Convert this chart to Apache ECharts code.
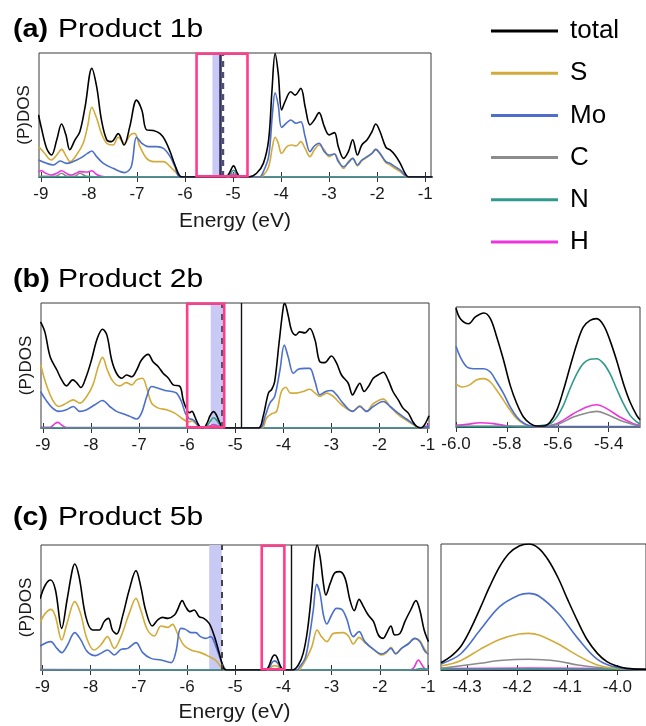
<!DOCTYPE html>
<html>
<head>
<meta charset="utf-8">
<script src="https://cdn.jsdelivr.net/npm/echarts@6/dist/echarts.min.js"></script>
<style>
html,body{margin:0;padding:0;background:#fff;}
#chart{width:646px;height:726px;}
</style>
</head>
<body>
<div id="chart"></div>
<script>
// ---------------- data (Energy eV, PDOS arbitrary units) ----------------
const legendNames = ['total','S','Mo','C','N','H'];
const mainTicks = [-9,-8,-7,-6,-5,-4,-3,-2,-1];
const bInsetTicks = [-6.0,-5.8,-5.6,-5.4];
const cInsetTicks = [-4.3,-4.2,-4.1,-4.0];
const titles = [['(a)','Product 1b'],['(b)','Product 2b'],['(c)','Product 5b']];

// Panel (a) Product 1b
const aTotal = [[-9.05,50],[-8.99,39.5],[-8.88,23],[-8.78,17.7],[-8.67,30],[-8.57,42.7],[-8.48,34],[-8.4,22],[-8.29,30],[-8.19,36.5],[-8.08,56.7],[-7.94,87.6],[-7.84,72.8],[-7.74,46],[-7.63,30],[-7.53,28.5],[-7.39,35],[-7.27,25.8],[-7.15,40.6],[-7.01,62],[-6.9,54],[-6.8,38],[-6.66,37.5],[-6.52,35],[-6.42,30],[-6.31,20.4],[-6.21,9.7],[-6.1,0.5],[-6.03,0],[-5.15,0],[-5.08,3],[-4.99,9],[-4.91,3],[-4.85,0],[-4.68,0],[-4.51,3],[-4.37,11],[-4.26,30],[-4.19,70],[-4.125,99.5],[-4.06,83.6],[-3.99,54],[-3.92,60.7],[-3.8,68.8],[-3.71,66],[-3.59,71.5],[-3.5,56.7],[-3.4,42],[-3.31,46],[-3.21,51.9],[-3.1,40.6],[-3.0,34],[-2.89,35.8],[-2.81,24.5],[-2.7,15],[-2.6,20.4],[-2.51,30],[-2.41,17.7],[-2.32,25.8],[-2.21,30],[-2.11,36.5],[-2.03,42.7],[-1.94,36.5],[-1.82,24],[-1.73,21.8],[-1.63,17.7],[-1.52,11],[-1.42,3],[-1.35,0],[-0.85,0]];
const aS = [[-9.05,24.5],[-8.95,20.4],[-8.78,13.7],[-8.67,17.7],[-8.57,22.3],[-8.47,16.4],[-8.39,12.4],[-8.26,17.7],[-8.12,27.2],[-8.03,40.6],[-7.94,56.2],[-7.84,47.3],[-7.74,35.2],[-7.63,27.2],[-7.5,25.8],[-7.39,32],[-7.26,27.2],[-7.14,33.9],[-7.05,35.2],[-6.94,24.5],[-6.8,15],[-6.66,12.4],[-6.45,12.4],[-6.31,8.3],[-6.17,3],[-6.07,0],[-5.12,0],[-4.99,0.8],[-4.87,0],[-4.45,0],[-4.37,1.3],[-4.26,8.3],[-4.18,24.5],[-4.125,32],[-4.06,27.2],[-3.99,19],[-3.88,24.5],[-3.78,25.8],[-3.69,25],[-3.59,28.5],[-3.5,23],[-3.4,16.4],[-3.31,21.8],[-3.21,25.8],[-3.1,21.8],[-3.0,16.4],[-2.89,18.5],[-2.81,13.7],[-2.7,7],[-2.6,12.4],[-2.51,15],[-2.41,9],[-2.32,13],[-2.21,16],[-2.11,19],[-2.03,22.3],[-1.94,18.5],[-1.82,11.6],[-1.73,9.7],[-1.63,7],[-1.52,4.3],[-1.42,1],[-1.35,0],[-0.85,0]];
const aMo = [[-9.05,13.7],[-8.88,11],[-8.74,9.7],[-8.6,12.9],[-8.47,11],[-8.33,12.4],[-8.19,15],[-8.03,19],[-7.94,21],[-7.84,16.4],[-7.7,11],[-7.5,7],[-7.26,3.5],[-7.12,8.3],[-7.01,32],[-6.9,27.2],[-6.77,24.5],[-6.59,24.5],[-6.45,23],[-6.31,16.4],[-6.21,8.3],[-6.1,0],[-5.12,0],[-4.99,1.2],[-4.87,0],[-4.45,0],[-4.37,4.3],[-4.26,16.4],[-4.18,51.3],[-4.125,68],[-4.06,58],[-3.99,40],[-3.88,43.8],[-3.8,46],[-3.69,43.3],[-3.59,44.6],[-3.5,32.5],[-3.4,20.4],[-3.31,25],[-3.21,27.2],[-3.1,20.4],[-3.0,17.7],[-2.89,18.5],[-2.81,12.4],[-2.7,8.3],[-2.6,11.6],[-2.51,15],[-2.41,9.7],[-2.32,13.7],[-2.21,16.4],[-2.11,19],[-2.03,22.3],[-1.94,19],[-1.82,12.4],[-1.73,11],[-1.63,8.3],[-1.52,5.6],[-1.42,1.3],[-1.35,0],[-0.85,0]];
const aC = [[-9.05,0.5],[-8.7,0.5],[-8.57,3],[-8.45,0.5],[-8.3,0.5],[-8.19,3],[-8.05,0.5],[-7.6,0],[-5.12,0],[-4.99,1.5],[-4.87,0],[-0.85,0]];
const aN = [[-9.05,0],[-5.12,0],[-4.99,5.5],[-4.87,0],[-0.85,0]];
const aH = [[-9.05,4],[-8.99,5],[-8.9,3],[-8.78,1.6],[-8.67,3],[-8.57,5],[-8.45,2.5],[-8.36,1.6],[-8.27,3],[-8.19,4.3],[-8.05,4],[-7.94,5],[-7.84,2],[-7.74,0.5],[-7.6,0],[-5.12,0],[-4.99,2.5],[-4.87,0],[-0.85,0]];

// Panel (b) Product 2b
const bTotal = [[-9.05,84.9],[-8.96,76.9],[-8.85,57],[-8.71,46.4],[-8.61,38.5],[-8.51,33.7],[-8.38,38.5],[-8.3,36.3],[-8.21,32.4],[-8.1,41],[-7.99,54.4],[-7.87,71.6],[-7.76,79],[-7.67,74.3],[-7.57,54.4],[-7.47,43.8],[-7.36,39.8],[-7.26,42.4],[-7.15,41],[-7.05,46.4],[-6.95,54.4],[-6.81,58.9],[-6.71,53],[-6.6,49],[-6.5,43.8],[-6.39,39.8],[-6.29,34.5],[-6.15,33.2],[-6.08,22],[-6.0,14.2],[-5.95,12.3],[-5.9,13.4],[-5.84,9],[-5.77,3],[-5.7,0.2],[-5.65,0.3],[-5.58,4.4],[-5.52,10],[-5.45,13.1],[-5.4,11],[-5.33,5],[-5.28,1.3],[-5.2,0],[-4.52,0],[-4.42,9.3],[-4.31,27.9],[-4.24,31],[-4.18,37.1],[-4.09,67.6],[-4.0,96.8],[-3.97,99.5],[-3.9,90.2],[-3.83,78.2],[-3.74,74.3],[-3.66,76.9],[-3.55,76.1],[-3.45,79.6],[-3.34,70.3],[-3.24,53],[-3.14,52.3],[-3.0,57.6],[-2.89,51.7],[-2.79,42.4],[-2.65,35.8],[-2.56,26.5],[-2.48,31.8],[-2.41,35.8],[-2.32,29.2],[-2.23,33.2],[-2.13,39.8],[-2.03,42.4],[-1.92,44.6],[-1.82,38.5],[-1.72,29.2],[-1.61,22.5],[-1.51,15.9],[-1.4,11.9],[-1.31,5.3],[-1.23,1.3],[-1.14,0],[-1.06,2.7],[-0.97,9.8]];
const bS = [[-9.05,51.2],[-8.94,35.8],[-8.8,22.5],[-8.67,17.2],[-8.51,19.9],[-8.37,22.5],[-8.23,19.9],[-8.09,25.2],[-7.96,34.5],[-7.85,49],[-7.76,56.5],[-7.66,46.4],[-7.54,37.1],[-7.4,33.7],[-7.27,36.3],[-7.15,34.5],[-7.05,38.5],[-6.93,39.8],[-6.84,31.8],[-6.74,19.9],[-6.6,15.9],[-6.43,14.6],[-6.26,11.9],[-6.12,8],[-6.0,5.2],[-5.95,5.0],[-5.9,5.8],[-5.84,4.2],[-5.77,1.5],[-5.7,0],[-4.45,0],[-4.35,8],[-4.24,11.4],[-4.14,13.3],[-4.04,29.2],[-3.95,32.6],[-3.85,27.9],[-3.73,27.9],[-3.59,29.2],[-3.45,31],[-3.34,27.9],[-3.24,25.2],[-3.1,27.9],[-2.96,25.2],[-2.79,18.6],[-2.56,13.3],[-2.41,17.8],[-2.27,13.3],[-2.13,19.4],[-1.92,23.1],[-1.78,17.2],[-1.61,10.6],[-1.44,6.1],[-1.3,2.7],[-1.18,0],[-0.97,0]];
const bMo = [[-9.05,29.2],[-8.94,22.5],[-8.8,15.9],[-8.67,13.3],[-8.51,14.6],[-8.37,17.2],[-8.23,13.3],[-8.09,14.6],[-7.92,18.6],[-7.76,22],[-7.61,17.2],[-7.47,13.3],[-7.33,11.4],[-7.19,9.3],[-7.05,7.2],[-6.95,11.9],[-6.84,25.2],[-6.74,33.2],[-6.6,31.8],[-6.46,30],[-6.32,29.2],[-6.22,27.9],[-6.12,21.2],[-6.04,12],[-6.0,9.7],[-5.95,7.3],[-5.9,7.0],[-5.84,5.4],[-5.77,1.5],[-5.7,0],[-4.49,0],[-4.38,9.3],[-4.28,19.9],[-4.18,25.2],[-4.07,46.4],[-3.98,66.3],[-3.9,57],[-3.79,43.8],[-3.69,47],[-3.55,47.7],[-3.45,47.7],[-3.34,37.1],[-3.24,26.5],[-3.12,29.2],[-3.0,30],[-2.89,26.5],[-2.76,19.9],[-2.56,13.3],[-2.41,17.2],[-2.27,13.3],[-2.13,17.2],[-1.92,21.2],[-1.78,17.2],[-1.61,11.9],[-1.44,7.2],[-1.3,3.4],[-1.16,0.3],[-0.97,0.5]];
const bC = [[-9.05,0],[-5.62,0],[-5.52,1.2],[-5.45,1.9],[-5.38,1.2],[-5.28,0.2],[-5.2,0],[-0.97,0]];
const bN = [[-9.05,0],[-5.64,0],[-5.57,2.5],[-5.5,6.5],[-5.45,8.2],[-5.39,6.5],[-5.33,3],[-5.28,0.5],[-5.2,0],[-1.2,0],[-1.05,0.5],[-0.97,1]];
const bH = [[-9.05,0.5],[-8.85,0.5],[-8.75,3.5],[-8.69,4.5],[-8.6,2],[-8.5,0.3],[-6.1,0.3],[-5.9,0.6],[-5.7,0],[-5.6,0.4],[-5.5,2.2],[-5.45,2.7],[-5.38,2],[-5.28,0.3],[-5.2,0],[-1.15,0],[-1.05,1.2],[-0.97,2.2]];

// Panel (b) inset (-6.0 .. -5.28 eV)
const biTotal = [[-6.0,99.2],[-5.983,90.3],[-5.95,86.1],[-5.924,91.7],[-5.89,95],[-5.865,90.3],[-5.84,75],[-5.813,55.6],[-5.787,34.7],[-5.761,19.4],[-5.735,8.3],[-5.708,2.8],[-5.682,0.8],[-5.656,0.8],[-5.63,4.2],[-5.604,13.9],[-5.578,30.6],[-5.552,50],[-5.525,69.4],[-5.5,83.3],[-5.473,88.9],[-5.447,90.3],[-5.42,84.7],[-5.395,72.2],[-5.369,55.6],[-5.342,36.1],[-5.316,20.8],[-5.29,9.7],[-5.277,6.1]];
const biS = [[-6.0,36.1],[-5.977,33.3],[-5.95,34.7],[-5.918,39.4],[-5.89,40.3],[-5.865,37.5],[-5.84,30.6],[-5.813,22.2],[-5.787,13.9],[-5.761,6.9],[-5.735,2.8],[-5.708,0.8],[-5.682,0],[-5.277,0]];
const biMo = [[-6.0,67.2],[-5.983,58.3],[-5.957,50],[-5.931,48.6],[-5.89,48.6],[-5.865,45.8],[-5.84,37.5],[-5.813,27.8],[-5.787,16.7],[-5.761,8.3],[-5.735,3.3],[-5.708,0.8],[-5.682,0.3],[-5.277,0.3]];
const biC = [[-6.0,0.5],[-5.7,0.5],[-5.604,2],[-5.539,8.3],[-5.486,11.7],[-5.447,13],[-5.408,10.6],[-5.356,5.6],[-5.303,2],[-5.277,0.8]];
const biN = [[-6.0,0.3],[-5.7,0.3],[-5.682,0.8],[-5.63,2.8],[-5.604,8.3],[-5.578,18],[-5.552,31.9],[-5.525,44.4],[-5.5,52.8],[-5.473,56.4],[-5.447,56.9],[-5.42,52.8],[-5.395,44.4],[-5.369,31.9],[-5.342,19.4],[-5.316,9.7],[-5.29,4.2],[-5.277,2.8]];
const biH = [[-6.0,1.4],[-5.957,2.2],[-5.905,3.6],[-5.853,2.8],[-5.801,1.1],[-5.748,0.3],[-5.67,0.2],[-5.604,2.8],[-5.539,11.1],[-5.486,16.7],[-5.447,18.6],[-5.408,15.3],[-5.356,8.3],[-5.303,2.8],[-5.277,1.4]];

// Panel (c) Product 5b
const cTotal = [[-9.05,57],[-8.94,68],[-8.83,72],[-8.73,64],[-8.6,33.3],[-8.49,56],[-8.38,80],[-8.33,84.8],[-8.24,74.7],[-8.1,42.7],[-7.96,32],[-7.82,32],[-7.72,38.7],[-7.63,41.3],[-7.55,32],[-7.46,28.8],[-7.34,42.7],[-7.2,64],[-7.06,79.5],[-6.96,66.7],[-6.86,48],[-6.72,35.2],[-6.61,40],[-6.51,42.1],[-6.4,41.3],[-6.26,44],[-6.2,48],[-6.1,55.5],[-6.03,50.7],[-5.94,46.7],[-5.85,48],[-5.75,42.7],[-5.65,41.3],[-5.54,37.3],[-5.43,26.7],[-5.33,13.3],[-5.24,1.3],[-5.18,0],[-4.37,0],[-4.33,1.3],[-4.294,3.8],[-4.255,7.9],[-4.216,11.1],[-4.177,12],[-4.138,10.5],[-4.099,6.7],[-4.06,2.9],[-4.021,0.8],[-3.98,0],[-3.81,0],[-3.69,4],[-3.59,13.3],[-3.5,32],[-3.41,64],[-3.35,90.7],[-3.3,100],[-3.24,90.7],[-3.17,69.3],[-3.12,60],[-3.03,69.3],[-2.93,77.9],[-2.83,78.7],[-2.72,73.3],[-2.62,56],[-2.53,47.5],[-2.43,56.5],[-2.34,50.7],[-2.24,44],[-2.13,38.7],[-2.03,28],[-1.93,25.3],[-1.86,29.3],[-1.77,35.2],[-1.69,28],[-1.58,29.3],[-1.48,38.7],[-1.36,48],[-1.25,55.5],[-1.17,48],[-1.08,32],[-0.99,22.7]];
const cS = [[-9.05,37.9],[-8.94,45.3],[-8.82,48.5],[-8.73,42.7],[-8.6,24],[-8.49,37.3],[-8.33,54.7],[-8.21,45.3],[-8.08,25.3],[-7.93,16],[-7.79,20],[-7.65,26.7],[-7.51,17.3],[-7.37,26.7],[-7.2,45.3],[-7.06,57.3],[-6.96,48],[-6.82,32],[-6.68,27.2],[-6.54,35.2],[-6.4,34.1],[-6.3,36.5],[-6.2,29.3],[-6.07,20],[-5.92,16],[-5.72,13.9],[-5.54,10.7],[-5.4,7.5],[-5.3,2.7],[-5.22,0],[-4.36,0],[-4.29,1.5],[-4.216,3.2],[-4.177,3.5],[-4.138,3.2],[-4.06,1.4],[-3.98,0],[-3.68,0],[-3.62,2.7],[-3.52,9.3],[-3.41,18.7],[-3.3,32],[-3.21,26.7],[-3.1,22.7],[-2.96,29.3],[-2.76,29.9],[-2.65,27.2],[-2.55,20.8],[-2.43,26.1],[-2.31,21.9],[-2.13,16.5],[-1.96,12],[-1.86,13.9],[-1.77,18.1],[-1.67,13.3],[-1.55,17.3],[-1.41,21.3],[-1.27,25.3],[-1.17,23.5],[-1.06,16],[-0.99,13.3]];
const cMo = [[-9.05,19.2],[-8.83,22.7],[-8.7,17.3],[-8.6,13.9],[-8.49,19.2],[-8.33,29.9],[-8.21,24.5],[-8.07,14.7],[-7.9,11.5],[-7.79,13.3],[-7.65,16],[-7.51,12],[-7.37,16.5],[-7.23,17.3],[-7.06,21.9],[-6.92,13.9],[-6.75,9.3],[-6.54,8],[-6.33,5.9],[-6.23,14.7],[-6.13,33.3],[-6.03,32.5],[-5.92,29.9],[-5.82,29.9],[-5.72,26.7],[-5.61,25.3],[-5.51,26.7],[-5.4,18.7],[-5.3,8],[-5.22,1.3],[-5.16,0],[-4.36,0],[-4.29,2],[-4.235,6],[-4.177,7.3],[-4.118,5.4],[-4.06,1.8],[-3.99,0.2],[-3.72,0],[-3.66,2.7],[-3.55,9.3],[-3.46,26.7],[-3.38,48],[-3.31,68.5],[-3.24,61.3],[-3.17,44],[-3.1,36.8],[-3.0,44],[-2.9,49.3],[-2.79,48.5],[-2.69,41.3],[-2.55,26.7],[-2.43,30.7],[-2.31,22.7],[-2.13,16.5],[-1.96,12.8],[-1.86,14.7],[-1.77,17.3],[-1.67,12.8],[-1.55,17.3],[-1.41,20.8],[-1.27,25.3],[-1.17,22.7],[-1.06,14.7],[-0.99,12.8]];
const cC = [[-9.05,0],[-4.36,0],[-4.25,0.6],[-4.177,1],[-4.1,0.6],[-3.98,0],[-0.99,0]];
const cN = [[-9.05,0],[-1.3,0],[-1.15,1.2],[-1.05,0.8],[-0.99,0.5]];
const cH = [[-9.05,0.3],[-4.36,0.1],[-4.177,0.2],[-3.98,0],[-1.4,0],[-1.3,1.5],[-1.2,8],[-1.1,2.5],[-1.03,0.3],[-0.99,0.2]];

// Panel (c) inset (-4.35 .. -3.95 eV)
const ciTotal = [[-4.352,5.8],[-4.333,10.6],[-4.313,18.5],[-4.294,31.7],[-4.274,48.9],[-4.255,66.1],[-4.235,82],[-4.216,92.6],[-4.196,98.4],[-4.177,100],[-4.157,96.6],[-4.138,87.3],[-4.118,72.8],[-4.099,55.6],[-4.079,38.4],[-4.06,23.8],[-4.04,13.2],[-4.021,6.6],[-4.001,3.2],[-3.982,1.3],[-3.943,0.5]];
const ciS = [[-4.352,3.2],[-4.313,7.4],[-4.274,16.4],[-4.235,24.3],[-4.196,28.6],[-4.177,29.1],[-4.157,27.8],[-4.118,20.6],[-4.079,11.4],[-4.04,4],[-4.001,1.3],[-3.943,0.3]];
const ciMo = [[-4.352,4.8],[-4.313,12.7],[-4.274,31.7],[-4.235,50.3],[-4.196,59.5],[-4.177,60.8],[-4.157,58.7],[-4.118,45],[-4.079,25.1],[-4.04,8.5],[-4.001,2.1],[-3.943,0.3]];
const ciC = [[-4.352,1.3],[-4.274,5.3],[-4.235,7.5],[-4.177,8.5],[-4.118,7],[-4.079,4],[-4.001,0.8],[-3.943,0.3]];
const ciN = [[-4.352,0.5],[-4.177,0.7],[-3.943,0.3]];
const ciH = [[-4.352,1.2],[-4.177,1.5],[-3.943,0.8]];

// marker positions (eV)
const aBox = [-5.76,-4.70], aShade = [-5.43,-5.27], aSolid = -5.26, aDash = -5.21;
const bBox = [-6.0,-5.23], bShade = [-5.51,-5.25], bDash = -5.28, bSolid = -4.88;
const cBox = [-4.45,-3.98], cShade = [-5.54,-5.28], cDash = -5.28, cSolid = -3.84;

// ---------------- chart ----------------
const FONT = '"Liberation Sans", Arial, Helvetica, sans-serif';
const COLORS = {total:'#000000', S:'#d3ab3a', Mo:'#4b6fca', C:'#8c8c8c', N:'#2f9a8d', H:'#ec35de'};
const DRAW_ORDER = ['H','C','N','S','Mo','total'];

const grids = [
  {left:39, top:53, width:392, height:124},
  {left:41, top:303, width:388, height:125},
  {left:456, top:307, width:184, height:120},
  {left:41, top:545, width:387, height:125},
  {left:441, top:544, width:210, height:126}
];
const ranges = [[-9.04,-0.88],[-9.04,-0.97],[-6.0,-5.277],[-9.03,-1.0],[-4.352,-3.943]];
const tickSets = [mainTicks, mainTicks, bInsetTicks, mainTicks, cInsetTicks];
const isInset = [false,false,true,false,true];
const xNames = ['Energy (eV)','', '', 'Energy (eV)', ''];
const xNameGaps = [34,0,0,32,0];
const sets = [
  {total:aTotal,S:aS,Mo:aMo,C:aC,N:aN,H:aH},
  {total:bTotal,S:bS,Mo:bMo,C:bC,N:bN,H:bH},
  {total:biTotal,S:biS,Mo:biMo,C:biC,N:biN,H:biH},
  {total:cTotal,S:cS,Mo:cMo,C:cC,N:cN,H:cH},
  {total:ciTotal,S:ciS,Mo:ciMo,C:ciC,N:ciN,H:ciH}
];

const xAxes = [], yAxes = [], series = [];
grids.forEach((g, i) => {
  g.show = true; g.borderColor = '#3a3a3a'; g.borderWidth = 1; g.containLabel = false;
  const fmt = isInset[i] ? (v => Number(v).toFixed(1)) : (v => String(Math.round(v)));
  xAxes.push({
    type:'value', gridIndex:i, position:'bottom', min:ranges[i][0], max:ranges[i][1],
    axisLine:{show:true, onZero:false, lineStyle:{color:'#222', width:1}},
    axisTick:{show:true, inside:true, length:5, customValues:tickSets[i], lineStyle:{color:'#333'}},
    axisLabel:{show:true, customValues:tickSets[i], formatter:fmt, fontSize:17, fontFamily:FONT, color:'#1a1a1a', margin:9},
    splitLine:{show:false},
    name:xNames[i], nameLocation:'middle', nameGap:xNameGaps[i],
    nameTextStyle:{fontSize:21, fontFamily:FONT, color:'#1a1a1a'}
  });
  xAxes.push({
    type:'value', gridIndex:i, position:'top', min:ranges[i][0], max:ranges[i][1],
    axisLine:{show:false}, axisLabel:{show:false},
    axisTick:{show:true, inside:true, length:5, customValues:tickSets[i], lineStyle:{color:'#333'}},
    splitLine:{show:false}
  });
  yAxes.push({
    type:'value', gridIndex:i, min:0, max:100,
    axisLine:{show:false}, axisTick:{show:false}, axisLabel:{show:false}, splitLine:{show:false},
    name: isInset[i] ? '' : '(P)DOS', nameLocation:'middle', nameGap:6,
    nameTextStyle:{fontSize:17, fontFamily:FONT, color:'#1a1a1a'}
  });
  DRAW_ORDER.forEach(k => {
    series.push({
      type:'line', name:k, xAxisIndex:2*i, yAxisIndex:i, data:sets[i][k],
      showSymbol:false, symbol:'none', smooth:0.35, clip:true, z:3,
      lineStyle:{width:1.6, color:COLORS[k]}, itemStyle:{color:COLORS[k]}
    });
  });
});

function markerSeries(gi, shade, box, lines) {
  const base = {type:'line', xAxisIndex:2*gi, yAxisIndex:gi, data:[[ranges[gi][0],0]], symbol:'none',
                lineStyle:{opacity:0}, silent:true};
  const out = [];
  out.push(Object.assign({}, base, {
    name:'shade', z:1,
    markArea:{silent:true, z:1, itemStyle:{color:'#c9c9f6'}, data:[[{xAxis:shade[0], yAxis:0},{xAxis:shade[1], yAxis:100}]]},
    markLine:{silent:true, symbol:['none','none'], label:{show:false}, z:4,
      data: lines.map(l => ({xAxis:l.x, lineStyle:{color:l.c, width:l.w, type:l.t}}))}
  }));
  out.push(Object.assign({}, base, {
    name:'box', z:6,
    markArea:{silent:true, z:6, itemStyle:{color:'rgba(0,0,0,0)', borderColor:'#ff3d8c', borderWidth:2.6},
      data:[[{xAxis:box[0], yAxis:0.6},{xAxis:box[1], yAxis:99.4}]]}
  }));
  return out;
}
series.push(...markerSeries(0, aShade, aBox, [
  {x:aSolid, c:'#34345e', w:2.6, t:'solid'}, {x:aDash, c:'#4d4d73', w:2.4, t:[6,5]}]));
series.push(...markerSeries(1, bShade, bBox, [
  {x:bDash, c:'#55556a', w:2, t:[6,6]}, {x:bSolid, c:'#111', w:1.4, t:'solid'}]));
series.push(...markerSeries(3, cShade, cBox, [
  {x:cDash, c:'#444', w:2, t:[6,6]}, {x:cSolid, c:'#111', w:1.4, t:'solid'}]));

const titleY = [30, 280, 518];
const graphics = [];
titles.forEach((t, i) => {
  graphics.push({type:'text', x:13, y:titleY[i], scaleX:1.15, silent:true,
    style:{text:t[0], font:'bold 25px ' + FONT, fill:'#000', textVerticalAlign:'middle', textAlign:'left'}});
  graphics.push({type:'text', x:58, y:titleY[i], scaleX:1.2, silent:true,
    style:{text:t[1], font:'25px ' + FONT, fill:'#000', textVerticalAlign:'middle', textAlign:'left'}});
});

const chart = echarts.init(document.getElementById('chart'), null, {renderer:'canvas'});
chart.setOption({
  backgroundColor:'#ffffff',
  animation:false,
  grid:grids,
  xAxis:xAxes,
  yAxis:yAxes,
  legend:{
    data:legendNames, orient:'vertical', left:491, top:16, padding:0,
    icon:'rect', itemWidth:67, itemHeight:3, itemGap:12.2, selectedMode:false,
    textStyle:{fontSize:26, fontFamily:FONT, color:'#000', lineHeight:30, padding:[0,0,0,7]}
  },
  graphic:graphics,
  series:series
});
</script>
</body>
</html>
